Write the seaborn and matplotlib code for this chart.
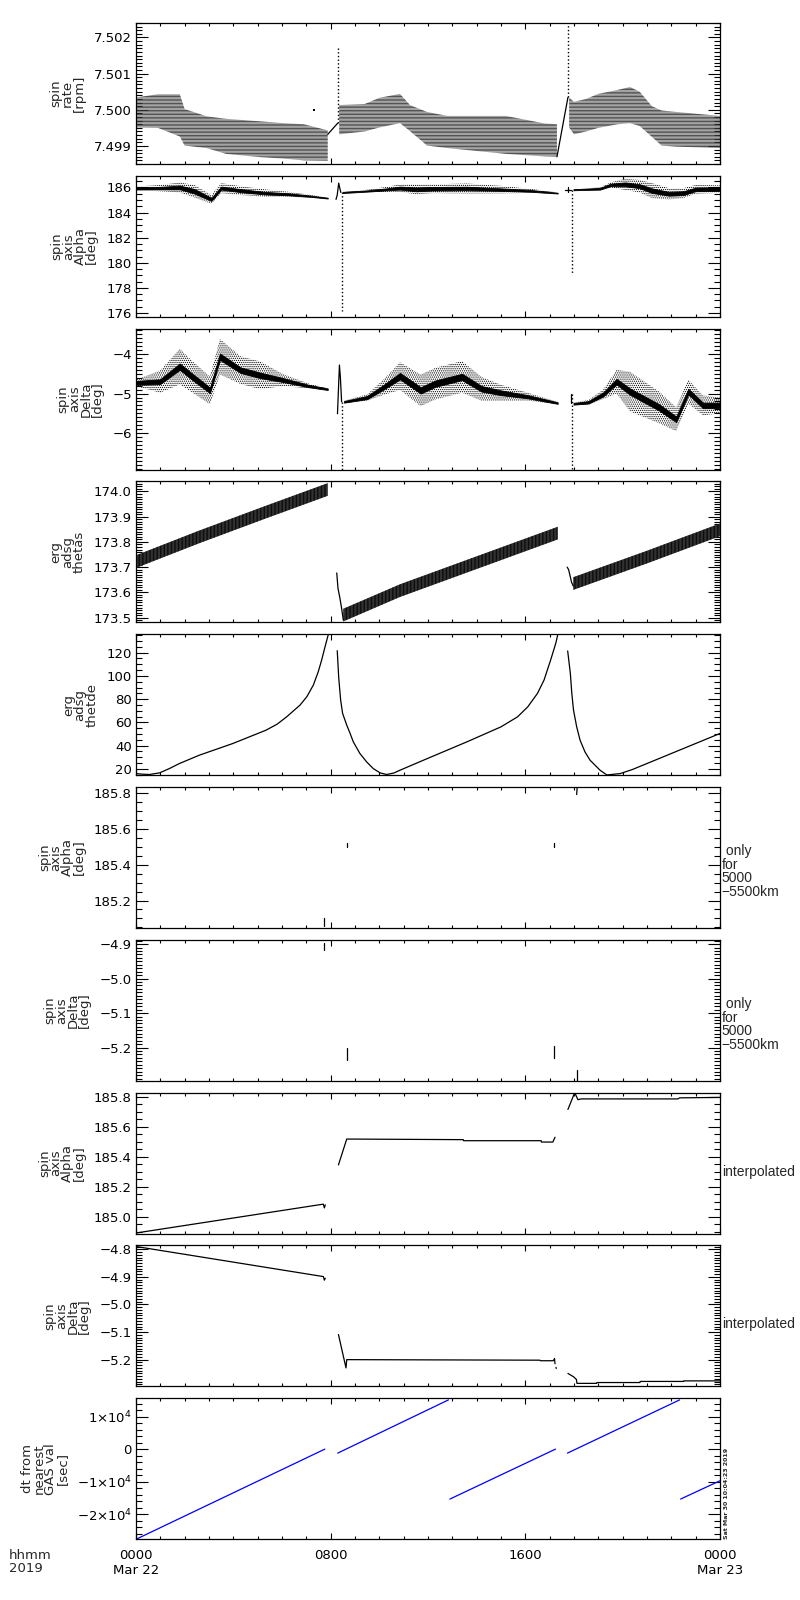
#ERG SPIN AXIS / ATTITUDE SUMMARY PLOT, 2019-03-22

import numpy as np
import pandas as pd
import matplotlib
matplotlib.use("Agg")
import matplotlib.pyplot as plt
from matplotlib.ticker import MultipleLocator, FuncFormatter
import seaborn as sns

# time axis: hours from 2019-03-22 00:00 UT
tick_hours = [0, 8, 16, 24]
tick_labels = ["0000\nMar 22", "0800", "1600", "0000\nMar 23"]

rate_tA = [0.0, 0.9, 1.8, 2.0, 2.9, 3.7, 5.1, 6.05, 6.9, 7.88]
rate_hiA = [7.50034, 7.50043, 7.50043, 7.50002, 7.49982, 7.49975, 7.49968, 7.49963, 7.49960, 7.49943]
rate_loA = [7.49951, 7.49950, 7.49926, 7.49901, 7.49894, 7.49878, 7.49869, 7.49865, 7.49860, 7.49859]
rate_tB = [8.35, 9.4, 10.0, 10.85, 11.26, 11.96, 12.8, 15.2, 16.8, 17.3]
rate_hiB = [7.50013, 7.50016, 7.50033, 7.50044, 7.50013, 7.49994, 7.49983, 7.49983, 7.49962, 7.49960]
rate_loB = [7.49932, 7.49940, 7.49951, 7.49963, 7.49941, 7.49901, 7.49894, 7.49878, 7.49871, 7.49870]
rate_tC = [17.8, 18.0, 18.5, 19.0, 19.8, 20.3, 20.7, 21.2, 21.6, 22.2, 24.0]
rate_hiC = [7.50034, 7.50022, 7.50030, 7.50044, 7.50055, 7.50063, 7.50050, 7.50010, 7.49998, 7.49994, 7.49983]
rate_loC = [7.49951, 7.49932, 7.49940, 7.49950, 7.49960, 7.49963, 7.49955, 7.49925, 7.49901, 7.49898, 7.49894]
rate_lines = [([7.88, 8.29], [7.49932, 7.49963]), ([17.30, 17.75], [7.49870, 7.50034])]
rate_spikes = [([8.32, 8.32], [7.49963, 7.50175]), ([17.76, 17.76], [7.50034, 7.50236])]
rate_dot_t = [7.3]
rate_dot_v = [7.5000]

# ---- panel 2: spin axis alpha [deg], scattered points: centre, dense core, spread ----
alp_tA = [0.0, 1.0, 1.8, 2.4, 3.1, 3.5, 4.3, 5.3, 6.3, 7.2, 7.88]
alp_mA = [185.92, 185.95, 186.0, 185.7, 185.05, 185.95, 185.75, 185.55, 185.45, 185.3, 185.15]
alp_cA = [0.08, 0.10, 0.15, 0.18, 0.12, 0.12, 0.12, 0.10, 0.08, 0.05, 0.03]
alp_sA = [0.15, 0.25, 0.40, 0.50, 0.35, 0.40, 0.35, 0.30, 0.20, 0.10, 0.04]
alp_tB = [8.5, 9.5, 10.3, 10.85, 11.5, 12.2, 13.6, 15.0, 16.3, 17.33]
alp_mB = [185.6, 185.72, 185.85, 185.95, 185.85, 185.9, 185.92, 185.83, 185.72, 185.55]
alp_cB = [0.04, 0.05, 0.08, 0.12, 0.15, 0.14, 0.14, 0.10, 0.07, 0.03]
alp_sB = [0.05, 0.10, 0.20, 0.30, 0.40, 0.35, 0.40, 0.30, 0.15, 0.05]
alp_tC = [17.98, 19.07, 19.5, 20.1, 20.7, 21.2, 21.9, 22.5, 23.0, 24.0]
alp_mC = [185.82, 185.9, 186.2, 186.25, 186.1, 185.75, 185.5, 185.55, 185.85, 185.87]
alp_cC = [0.04, 0.07, 0.10, 0.15, 0.16, 0.18, 0.15, 0.15, 0.14, 0.14]
alp_sC = [0.05, 0.10, 0.20, 0.45, 0.50, 0.60, 0.45, 0.40, 0.35, 0.30]
alp_lines = [([8.22, 8.27, 8.33, 8.38, 8.42], [185.05, 185.4, 186.35, 185.9, 185.6]),
             ([17.74, 17.74], [185.6, 186.0]), ([17.62, 17.86], [185.8, 185.8])]
alp_spikes = [([8.45, 8.45], [185.6, 176.2]), ([17.93, 17.93], [185.8, 179.1])]

# ---- panel 3: spin axis delta [deg] ----
dlt_tA = [0.0, 0.99, 1.8, 2.3, 3.04, 3.45, 4.3, 5.1, 6.05, 7.1, 7.88]
dlt_mA = [-4.73, -4.70, -4.32, -4.57, -4.92, -4.07, -4.41, -4.54, -4.66, -4.81, -4.89]
dlt_cA = [0.05, 0.06, 0.08, 0.08, 0.07, 0.08, 0.07, 0.07, 0.05, 0.03, 0.02]
dlt_sA = [0.08, 0.28, 0.45, 0.40, 0.35, 0.45, 0.35, 0.35, 0.15, 0.06, 0.02]
dlt_tB = [8.55, 9.5, 10.2, 10.85, 11.7, 12.3, 13.4, 14.2, 15.0, 16.1, 17.33]
dlt_mB = [-5.21, -5.10, -4.83, -4.56, -4.92, -4.75, -4.58, -4.88, -4.98, -5.08, -5.24]
dlt_cB = [0.02, 0.04, 0.06, 0.08, 0.08, 0.08, 0.08, 0.07, 0.06, 0.04, 0.02]
dlt_sB = [0.03, 0.08, 0.20, 0.35, 0.40, 0.40, 0.40, 0.30, 0.20, 0.10, 0.03]
dlt_tC = [17.98, 18.6, 19.2, 19.75, 20.3, 20.9, 21.5, 22.2, 22.7, 23.3, 24.0]
dlt_mC = [-5.26, -5.22, -5.02, -4.70, -4.95, -5.15, -5.35, -5.65, -4.95, -5.30, -5.30]
dlt_cC = [0.02, 0.03, 0.05, 0.07, 0.08, 0.08, 0.08, 0.07, 0.07, 0.07, 0.07]
dlt_sC = [0.03, 0.06, 0.12, 0.30, 0.50, 0.45, 0.40, 0.30, 0.30, 0.25, 0.20]
dlt_lines = [([8.28, 8.36, 8.40, 8.45], [-5.51, -4.28, -4.6, -5.21]), ([17.86, 17.86], [-5.0, -5.25])]
dlt_spikes = [([8.45, 8.45], [-5.21, -6.95]), ([17.93, 17.93], [-5.0, -6.95])]

# ---- panel 4: erg adsg thetas, oscillating band (centre +- half width) ----
ths_tA = [0.0, 2.6, 5.3, 7.88]
ths_mA = [173.722, 173.82, 173.917, 174.008]
ths_tB = [8.52, 10.85, 17.33]
ths_mB = [173.51, 173.607, 173.835]
ths_tC = [17.97, 21.0, 24.0]
ths_mC = [173.635, 173.74, 173.848]
ths_hw = 0.025
ths_lines = [([8.25, 8.30, 8.38, 8.45, 8.52], [173.677, 173.617, 173.577, 173.537, 173.49]),
             ([17.72, 17.78, 17.9, 17.97], [173.70, 173.69, 173.64, 173.625])]

# ---- panel 5: erg adsg thetde ----
thd_segs = [
    ([0.0, 0.25, 0.55, 0.97, 1.37, 1.78, 2.6, 3.97, 5.34, 5.8, 6.19, 6.74, 7.02, 7.29, 7.49, 7.63, 7.77, 7.92],
     [16.0, 15.5, 15.2, 16.6, 20.3, 24.6, 31.8, 41.8, 53.3, 58.5, 64.8, 74.9, 82.1, 92.2, 103.6, 113.7, 125.2, 137.0]),
    ([8.27, 8.33, 8.41, 8.49, 8.66, 8.80, 8.93, 9.2, 9.48, 9.75, 10.03, 10.3, 10.6, 10.85, 11.88,
      13.6, 15.0, 15.68, 16.1, 16.5, 16.77, 17.04, 17.25, 17.35],
     [121.7, 98.8, 79.2, 67.8, 57.7, 50.5, 43.3, 33.3, 26.0, 20.3, 16.6, 15.2, 16.5, 18.9, 28.1,
      43.3, 56.2, 64.8, 73.4, 85.0, 96.5, 113.7, 128.0, 137.0]),
    ([17.74, 17.85, 17.91, 17.98, 18.11, 18.25, 18.45, 18.66, 19.07, 19.35, 19.9, 20.4, 21.4, 24.0],
     [121.5, 102.2, 85.0, 70.6, 56.2, 44.7, 34.7, 27.5, 18.9, 14.8, 16.0, 19.5, 28.1, 50.5]),
]

# ---- panels 6/7: alpha / delta only for 5000-5500 km ----
alp_r_segs = [([7.74, 7.74], [185.06, 185.10]), ([8.66, 8.66], [185.50, 185.52]),
              ([17.19, 17.19], [185.50, 185.52]), ([18.11, 18.13], [185.79, 185.83])]
dlt_r_segs = [([7.74, 7.74], [-4.897, -4.917]), ([8.66, 8.66], [-5.201, -5.235]),
              ([17.19, 17.19], [-5.197, -5.230]), ([18.11, 18.11], [-5.264, -5.296])]

# ---- panels 8/9: interpolated alpha / delta ----
alp_i_segs = [
    ([0.0, 7.70, 7.74, 7.78], [184.893, 185.085, 185.06, 185.08]),
    ([8.32, 8.66, 13.45, 13.46, 16.65, 16.66, 17.13, 17.22],
     [185.346, 185.518, 185.514, 185.507, 185.507, 185.498, 185.498, 185.53]),
    ([17.75, 18.03, 18.16, 18.3, 22.27, 22.34, 24.0],
     [185.715, 185.827, 185.78, 185.785, 185.785, 185.792, 185.795]),
]
dlt_i_segs = [
    ([0.0, 7.70, 7.74, 7.78], [-4.79, -4.899, -4.912, -4.905]),
    ([8.32, 8.63, 8.66, 16.6, 16.62, 17.15, 17.2, 17.22],
     [-5.109, -5.23, -5.2, -5.202, -5.204, -5.204, -5.196, -5.215]),
    ([17.26, 17.27], [-5.228, -5.232]),
    ([17.75, 17.98, 18.1, 18.12, 18.93, 18.94, 20.71, 20.72, 22.5, 22.51, 24.0],
     [-5.250, -5.262, -5.272, -5.286, -5.286, -5.283, -5.283, -5.279, -5.279, -5.277, -5.277]),
]

# ---- panel 10: dt from nearest GAS value [sec] ----
dt_segs = [([0.0, 7.76], [-27700, 0]), ([8.29, 12.84], [-1230, 15120]),
           ([12.9, 17.24], [-15340, 0]), ([17.73, 22.34], [-1230, 15120]),
           ([22.38, 24.0], [-15340, -9720])]

ylabels = ["spin\nrate\n[rpm]", "spin\naxis\nAlpha\n[deg]", "spin\naxis\nDelta\n[deg]",
           "erg\nadsg\nthetas", "erg\nadsg\nthetde", "spin\naxis\nAlpha\n[deg]",
           "spin\naxis\nDelta\n[deg]", "spin\naxis\nAlpha\n[deg]", "spin\naxis\nDelta\n[deg]",
           "dt from\nnearest\nGAS val\n[sec]"]
ylims = [(7.4985, 7.5024), (175.7, 186.93), (-6.92, -3.36), (173.481, 174.04), (14.6, 135.9),
         (185.047, 185.832), (-5.2965, -4.8875), (184.889, 185.827), (-5.297, -4.786),
         (-27670, 15640)]
ymajor = [0.001, 2, 1, 0.1, 20, 0.2, 0.1, 0.2, 0.1, 10000]
yminor = [0.0001, 0.5, 0.1, 0.01, 5, 0.05, 0.01, 0.05, 0.01, 2000]
ydec = [3, 0, 0, 1, 0, 1, 1, 1, 1, None]
side_notes = [None, None, None, None, None, " only\nfor\n5000\n\u22125500km",
              " only\nfor\n5000\n\u22125500km", "interpolated", "interpolated", None]


def segs_df(segs):
    return pd.concat([pd.DataFrame({"t": t, "v": v, "seg": k}) for k, (t, v) in enumerate(segs)],
                     ignore_index=True)


def lines(ax, segs, color="black", lw=0.9, ls="-"):
    sns.lineplot(data=segs_df(segs), x="t", y="v", units="seg", estimator=None, sort=False,
                 color=color, linewidth=lw, linestyle=ls, ax=ax, legend=False)


def scatter_band(ax, t, mid, core, spread):
    mid, core, spread = np.asarray(mid), np.asarray(core), np.asarray(spread)
    ax.fill_between(t, mid - spread, mid + spread, facecolor="none", edgecolor="black",
                    hatch="........", linewidth=0)
    ax.fill_between(t, mid - core, mid + core, color="black", linewidth=0.6)


def sci_fmt(v, pos):
    m = int(round(v / 1e4))
    if m == 0:
        return "0"
    return ("\u2212" if m < 0 else "") + f"{abs(m)}\u00d710$^4$"


sns.set_style("ticks")
plt.rcParams["font.family"] = ["DejaVu Sans"]
plt.rcParams["axes.edgecolor"] = "black"
plt.rcParams["xtick.color"] = "black"
plt.rcParams["ytick.color"] = "black"
plt.rcParams["hatch.linewidth"] = 0.6

fig = plt.figure(figsize=(8, 16), dpi=100)
axes = []
for i in range(10):
    top = 23 + 152.8 * i
    axes.append(fig.add_axes([136 / 800, 1 - (top + 141) / 1600, 584 / 800, 141 / 1600]))

# panel 1
ax = axes[0]
for t, lo, hi in [(rate_tA, rate_loA, rate_hiA), (rate_tB, rate_loB, rate_hiB), (rate_tC, rate_loC, rate_hiC)]:
    ax.fill_between(t, lo, hi, facecolor="none", edgecolor="0.2", hatch="-" * 12, linewidth=0)
lines(ax, rate_lines)
lines(ax, rate_spikes, lw=1.0, ls=":")
sns.scatterplot(x=rate_dot_t, y=rate_dot_v, ax=ax, color="black", s=3, marker="s", linewidth=0)

# panel 2
ax = axes[1]
scatter_band(ax, alp_tA, alp_mA, alp_cA, alp_sA)
scatter_band(ax, alp_tB, alp_mB, alp_cB, alp_sB)
scatter_band(ax, alp_tC, alp_mC, alp_cC, alp_sC)
lines(ax, alp_lines)
lines(ax, alp_spikes, lw=1.0, ls=":")

# panel 3
ax = axes[2]
scatter_band(ax, dlt_tA, dlt_mA, dlt_cA, dlt_sA)
scatter_band(ax, dlt_tB, dlt_mB, dlt_cB, dlt_sB)
scatter_band(ax, dlt_tC, dlt_mC, dlt_cC, dlt_sC)
lines(ax, dlt_lines)
lines(ax, dlt_spikes, lw=1.0, ls=":")

# panel 4
ax = axes[3]
for t, m in [(ths_tA, ths_mA), (ths_tB, ths_mB), (ths_tC, ths_mC)]:
    m = np.asarray(m)
    ax.fill_between(t, m - ths_hw, m + ths_hw, facecolor="0.35", edgecolor="black",
                    hatch="|" * 12, linewidth=0)
lines(ax, ths_lines)

# panels 5-10
lines(axes[4], thd_segs)
lines(axes[5], alp_r_segs)
lines(axes[6], dlt_r_segs)
lines(axes[7], alp_i_segs)
lines(axes[8], dlt_i_segs)
lines(axes[9], dt_segs, color="#0000ff")

for i, ax in enumerate(axes):
    ax.set_xlim(0, 24)
    ax.set_ylim(*ylims[i])
    ax.xaxis.set_major_locator(MultipleLocator(8))
    ax.xaxis.set_minor_locator(MultipleLocator(1))
    ax.yaxis.set_major_locator(MultipleLocator(ymajor[i]))
    ax.yaxis.set_minor_locator(MultipleLocator(yminor[i]))
    if ydec[i] is None:
        ax.yaxis.set_major_formatter(FuncFormatter(sci_fmt))
    else:
        d = ydec[i]
        ax.yaxis.set_major_formatter(FuncFormatter(lambda v, p, d=d: f"{v:.{d}f}".replace("-", "\u2212")))
    ax.tick_params(which="both", direction="in", top=True, right=True, width=0.8,
                   labelsize=9.5, pad=3)
    ax.tick_params(axis="y", which="major", length=8.6)
    ax.tick_params(axis="y", which="minor", length=4.3)
    ax.tick_params(axis="x", which="major", length=4.3)
    ax.tick_params(axis="x", which="minor", length=2.2)
    for sp in ax.spines.values():
        sp.set_linewidth(0.9)
    ax.set_xlabel("")
    ax.set_ylabel(ylabels[i], fontsize=9.5, linespacing=0.85, labelpad=6)
    if i < 9:
        ax.tick_params(axis="x", labelbottom=False)
    if side_notes[i] is not None:
        yy = 0.44 if side_notes[i] == "interpolated" else 0.40
        ax.text(1.003, yy, side_notes[i], transform=ax.transAxes, ha="left", va="center",
                fontsize=10, linespacing=0.95, family=["Liberation Sans", "DejaVu Sans"])

ax = axes[9]
ax.set_xticks(tick_hours)
ax.set_xticklabels(tick_labels)
ax.tick_params(axis="x", which="major", pad=7, labelsize=9.5)

fig.text(9 / 800, 1 - 1549 / 1600, "hhmm\n2019", ha="left", va="top", fontsize=9.5, linespacing=0.95)
fig.text(726 / 800, 1 - 1539 / 1600, "Sat Mar 30 10:04:23 2019", rotation=90, fontsize=4.5,
         ha="center", va="bottom", fontweight="bold")

plt.savefig("out.png", dpi=100)
